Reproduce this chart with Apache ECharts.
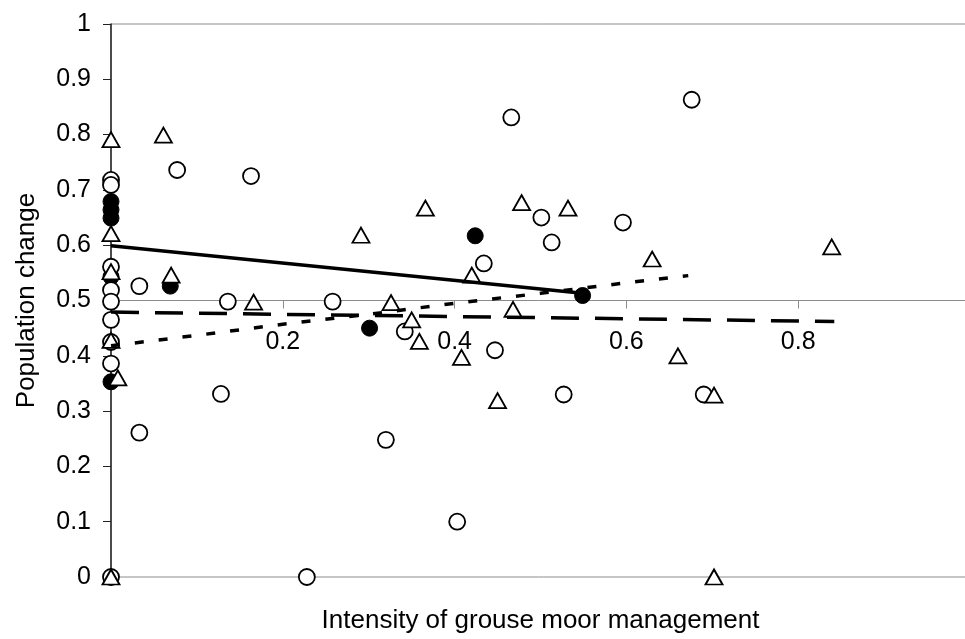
<!DOCTYPE html>
<html>
<head>
<meta charset="utf-8">
<script src="https://cdn.jsdelivr.net/npm/echarts@6/dist/echarts.min.js"></script>
<style>
html,body{margin:0;padding:0;background:#fff;}
#chart{width:965px;height:639px;}
</style>
</head>
<body>
<div id="chart"></div>
<script>
// ---- data ----
var openCircles = [
  [0, 0.718], [0, 0.709], [0, 0.561], [0, 0.519], [0, 0.498], [0, 0.465], [0, 0.425], [0, 0.386], [0, 0],
  [0.033, 0.526], [0.077, 0.736], [0.163, 0.725], [0.136, 0.498], [0.128, 0.331], [0.033, 0.261],
  [0.228, 0], [0.466, 0.831], [0.501, 0.650], [0.596, 0.641], [0.513, 0.605], [0.434, 0.567],
  [0.258, 0.498], [0.342, 0.444], [0.447, 0.410], [0.527, 0.330], [0.320, 0.248], [0.403, 0.100],
  [0.676, 0.863], [0.690, 0.330]
];
var filledCircles = [
  [0, 0.679], [0, 0.664], [0, 0.649], [0, 0.543], [0, 0.353],
  [0.069, 0.526], [0.424, 0.617], [0.549, 0.509], [0.301, 0.450]
];
var triangles = [
  [0, 0.791], [0, 0.621], [0, 0.552], [0, 0.428], [0, 0],
  [0.061, 0.799], [0.008, 0.360], [0.070, 0.546], [0.166, 0.497], [0.366, 0.667], [0.291, 0.618],
  [0.478, 0.677], [0.532, 0.667], [0.420, 0.546], [0.326, 0.496], [0.468, 0.484], [0.350, 0.465],
  [0.359, 0.426], [0.408, 0.397], [0.450, 0.319], [0.630, 0.575], [0.839, 0.597], [0.660, 0.400],
  [0.702, 0.329], [0.702, 0]
];
var solidFit = [[0, 0.599], [0.549, 0.513]];
var dashedFit = [[0, 0.479], [0.3, 0.473], [0.55, 0.468], [0.842, 0.462]];
var dottedFit = [[0, 0.418], [0.1, 0.437], [0.2, 0.457], [0.3, 0.475], [0.4, 0.495], [0.5, 0.513], [0.6, 0.532], [0.672, 0.545]];
var xTickLabels = ['0.2', '0.4', '0.6', '0.8'];
var yTickLabels = ['0', '0.1', '0.2', '0.3', '0.4', '0.5', '0.6', '0.7', '0.8', '0.9', '1'];

var FONT = 'Liberation Sans, Arial, sans-serif';
var chart = echarts.init(document.getElementById('chart'), null, {renderer: 'canvas'});

var gridTop = 24, gridHeight = 553;
var crossY = 0.5;

var option = {
  animation: false,
  backgroundColor: '#fff',
  grid: {
    left: 111, top: gridTop, width: 859, height: gridHeight,
    containLabel: false, outerBoundsMode: 'none',
    show: true, borderColor: '#8c8c8c', borderWidth: 1, backgroundColor: 'transparent'
  },
  xAxis: [
    {
      type: 'value', position: 'top', min: 0, max: 1, interval: 0.2,
      offset: -(gridHeight * (1 - crossY)),
      axisLine: {show: true, onZero: false, lineStyle: {color: '#8c8c8c', width: 1}},
      axisTick: {show: true, inside: true, length: 8, lineStyle: {color: '#8c8c8c'}},
      axisLabel: {
        show: true, inside: true, margin: 29, color: '#000', fontSize: 25, fontFamily: FONT,
        formatter: function (v) {
          var s = (+v.toFixed(1)).toString();
          return xTickLabels.indexOf(s) >= 0 ? s : '';
        }
      },
      splitLine: {show: false}
    },
    {
      type: 'value', position: 'bottom', min: 0, max: 1,
      name: 'Intensity of grouse moor management', nameLocation: 'middle', nameGap: 31,
      nameTextStyle: {color: '#000', fontSize: 26, fontFamily: FONT},
      axisLine: {show: false}, axisTick: {show: false}, axisLabel: {show: false}, splitLine: {show: false}
    }
  ],
  yAxis: {
    type: 'value', min: 0, max: 1, interval: 0.1,
    name: 'Population change', nameLocation: 'middle', nameGap: 71, nameRotate: 90,
    nameTextStyle: {color: '#000', fontSize: 26, fontFamily: FONT},
    axisLine: {show: true, onZero: false, lineStyle: {color: '#222', width: 1.5}},
    axisTick: {show: true, inside: false, length: 8, lineStyle: {color: '#222'}},
    axisLabel: {
      margin: 20, color: '#000', fontSize: 25, fontFamily: FONT,
      formatter: function (v) { return yTickLabels[Math.round(v * 10)]; }
    },
    splitLine: {show: false}
  },
  series: [
    {
      type: 'scatter', name: 'filled', data: filledCircles, symbol: 'circle', symbolSize: 16,
      itemStyle: {color: '#000', borderColor: '#000', borderWidth: 1, opacity: 1}, z: 2
    },
    {
      type: 'scatter', name: 'open', data: openCircles, symbol: 'circle', symbolSize: 16,
      itemStyle: {color: '#fff', borderColor: '#000', borderWidth: 1.8, opacity: 1}, z: 3
    },
    {
      type: 'scatter', name: 'triangle', data: triangles, symbol: 'triangle', symbolSize: [17, 15],
      itemStyle: {color: '#fff', borderColor: '#000', borderWidth: 1.8, opacity: 1}, z: 4
    },
    {
      type: 'line', data: solidFit, symbol: 'none', silent: true, z: 5,
      lineStyle: {color: '#000', width: 3.5, type: 'solid'}
    },
    {
      type: 'line', data: dashedFit, symbol: 'none', silent: true, z: 5,
      lineStyle: {color: '#000', width: 3.5, type: [28, 16]}
    },
    {
      type: 'line', data: dottedFit, symbol: 'none', silent: true, z: 5, smooth: false,
      lineStyle: {color: '#000', width: 3.5, type: [9, 15]}
    }
  ]
};
chart.setOption(option);
</script>
</body>
</html>
